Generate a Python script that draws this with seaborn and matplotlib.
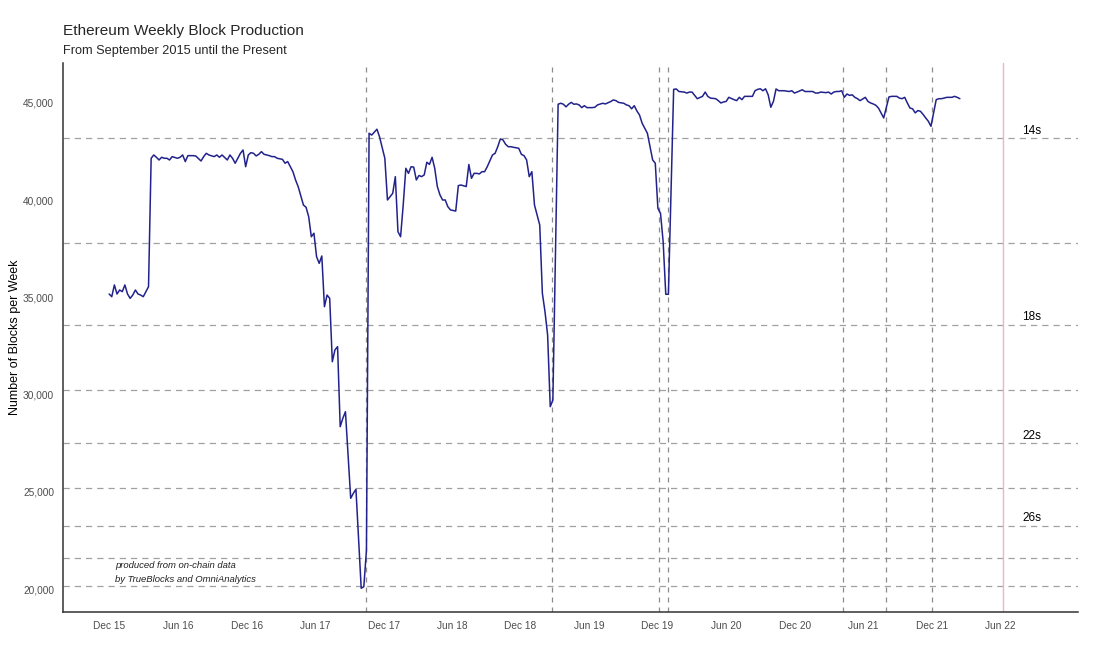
import matplotlib
matplotlib.use('Agg')
import pandas as pd
import matplotlib.pyplot as plt
import matplotlib.dates as mdates
import matplotlib.ticker as mticker
import seaborn as sns

# weekly series: week number counted from the first week, and blocks in that week
start_week = '2015-11-30'
weeks = [0, 1, 2, 3, 4, 5, 6, 7, 8, 9, 10, 11, 12, 13, 14, 15,
         16, 17, 18, 19, 20, 21, 22, 23, 24, 26, 27, 28, 29, 30, 32, 33, 35, 36, 37, 38,
         40, 41, 42, 43, 45, 46, 47, 48, 49, 50, 51, 52, 53, 54, 55, 56, 57, 58, 59,
         61, 62, 63, 64, 66, 67, 68, 69, 70, 71, 72,
         74, 75, 76, 77, 78, 79, 80, 81, 82, 83, 84, 85, 86, 87, 88, 89, 90,
         92, 93, 94, 96, 97, 98, 99, 100, 102, 103, 105, 106, 107, 108, 109, 110,
         111, 112, 113, 114, 115, 116, 117, 118, 119, 120, 121, 122, 123, 124, 125,
         126, 127, 128, 129, 130, 132, 133, 134, 136, 137, 138, 139, 140, 141, 142,
         143, 144, 146, 147, 148, 149, 150, 151, 152, 153, 154, 156, 157, 158, 159,
         160, 161, 162, 163, 164, 165, 166, 167, 168, 169,
         171, 172, 173, 174, 175, 176, 177, 178, 179, 180, 181, 182, 184, 185, 186,
         188, 189, 191, 192, 193, 194, 196, 197, 198, 199, 200, 201, 202, 203, 205,
         206, 207, 208, 209, 210, 211, 212, 213, 215, 216, 217, 219, 220, 221, 222,
         223, 224, 226, 227, 228, 229, 231, 232, 233, 234, 235, 236, 238, 239, 240,
         241, 242, 243, 245, 246, 247, 248, 249, 250, 251, 252, 253, 254, 255, 256,
         257, 259, 260, 261, 262, 264, 265, 266, 268, 269, 270, 271, 273, 274, 275,
         276, 277, 278, 279, 280, 281, 282, 283, 284, 285, 286, 288, 289, 290, 291,
         292, 293, 294, 295, 297, 298, 300, 301, 302, 303, 304, 305, 306, 307, 308,
         309, 310, 311, 312, 313, 315, 316, 317, 318, 319, 321, 322, 323, 324]
blocks = [35175, 35036, 35640, 35175, 35380, 35295, 35640, 35175, 34950, 35120, 35380, 35175,
          35120, 35036, 35295, 35550,
          42155, 42325, 42206, 42067, 42206, 42155, 42155, 42067, 42240, 42155, 42206, 42325,
          41985, 42290, 42290, 42270, 42015, 42240, 42410, 42325,
          42240, 42325, 42206, 42325, 42067, 42325, 42155, 41900, 42155, 42410, 42580, 41722,
          42325, 42445, 42410, 42275, 42360, 42495, 42360,
          42290, 42240, 42240, 42155, 42100, 41900, 41985, 41720, 41465, 41040, 40695,
          39750, 39635, 39150, 38120, 38300, 37095, 36750, 37130, 34520, 35120, 34950, 31690,
          32300, 32465, 28350, 28780, 29120,
          24665, 24920, 25130, 20036, 20120, 22000, 43440, 43350, 43650, 43250, 42155, 40010,
          40180, 40350, 41210, 38380,
          38120, 39750, 41640, 41380, 41720, 41700, 41040, 41270, 41210, 41300, 41950, 41840,
          42205, 41640, 40700,
          40270, 40010, 40010, 39665, 39500, 39440, 40750, 40780, 40700, 41835, 41125, 41380,
          41380, 41350, 41465,
          41465, 41720, 42325, 42410, 42750, 43150, 43100, 42875, 42750, 42750, 42720, 42670,
          42360, 42290, 42070,
          41210, 41465, 39750, 39240, 38720, 35210, 34265, 33065, 29380, 29720,
          44935, 44985, 44935, 44800, 44935, 45030, 44935, 44950, 44900, 44760, 44860, 44760,
          44760, 44780, 44900,
          44985, 44950, 45070, 45155, 45120, 45030, 44985, 44900, 44860, 44700, 44860, 44590,
          44380, 43955, 43440,
          42750, 42070, 41900, 39580, 39320, 37860, 35160, 35160, 45700, 45720, 45590, 45560,
          45510, 45560, 45560,
          45390, 45220, 45340, 45560, 45340, 45250, 45220, 45120, 45000, 45050, 45080, 45290,
          45170, 45120, 45290,
          45170, 45340, 45340, 45340, 45630, 45700, 45730, 45630, 45730, 45420, 44780, 45080,
          45720, 45630, 45630,
          45630, 45590, 45630, 45510, 45560, 45680, 45590, 45590, 45590, 45510, 45510, 45560,
          45530, 45560, 45460,
          45560, 45590, 45590, 45630, 45290, 45460, 45390, 45420, 45290, 45220, 45120, 45290,
          45080, 45000, 44950,
          44880, 44740, 44490, 44230, 45310, 45340, 45340, 45250, 45220, 45290, 45000, 44740,
          44700, 44490, 44610,
          44570, 44410, 44230, 44060, 43800, 45170, 45220, 45220, 45250, 45290, 45290, 45340,
          45290, 45220]

# block time reference lines (blocks per week at a given block time)
block_times = [14, 16, 18, 20, 22, 24, 26, 28, 30]
labelled_times = [14, 18, 22, 26]
fork_dates = ['2017-10-14', '2019-02-24', '2019-12-05', '2019-12-29',
              '2021-04-09', '2021-07-31', '2021-12-02']
next_fork = '2022-06-08'

df = pd.DataFrame({'Week': pd.to_datetime(start_week) + pd.to_timedelta([w * 7 for w in weeks], unit='D'),
                   'Blocks': blocks})

sns.set_style("white")
plt.rcParams['font.family'] = ['Liberation Sans', 'DejaVu Sans']

fig = plt.figure(figsize=(11.2, 6.49), dpi=100)
ax = fig.add_axes([0.05625, 0.057, 0.90625, 0.846])

for s in block_times:
    ax.axhline(604800 / s, color='#a0a0a0', linestyle=(0, (5, 4)), linewidth=0.9, zorder=1)
for d in fork_dates:
    ax.axvline(pd.Timestamp(d), color='#8c8c8c', linestyle=(0, (4, 4)), linewidth=0.9, zorder=1)
ax.axvline(pd.Timestamp(next_fork), color='#f5b3c0', linewidth=1.0, zorder=1)

sns.lineplot(data=df, x='Week', y='Blocks', color='#22228c', linewidth=1.1, ax=ax, zorder=3)

label_x = pd.Timestamp('2022-08-24')
for s in labelled_times:
    ax.text(label_x, 604800 / s + 60, f'{s}s', ha='center', va='bottom', fontsize=8.5, color='black')

ax.text(pd.Timestamp('2015-12-16'), 20830, 'produced from on-chain data\nby TrueBlocks and OmniAnalytics',
        fontsize=6.8, style='italic', color='#222222', va='center', ha='left', linespacing=1.75)

ax.set_xlim(pd.Timestamp('2015-07-30'), pd.Timestamp('2022-12-26'))
ax.set_ylim(18817, 47058)

tick_dates = pd.date_range('2015-12-01', '2022-06-01', freq='6MS')
ax.set_xticks(tick_dates)
ax.xaxis.set_major_formatter(mdates.DateFormatter('%b %y'))
ax.yaxis.set_major_locator(mticker.MultipleLocator(5000))
ax.yaxis.set_major_formatter(mticker.StrMethodFormatter('{x:,.0f}'))

ax.tick_params(axis='both', labelsize=7.3, colors='#4d4d4d', length=3, width=0.8, direction='out')
ax.tick_params(axis='both', labelcolor='#4d4d4d')
ax.set_xlabel('')
ax.set_ylabel('Number of Blocks per Week', fontsize=9, color='black', labelpad=1)

for side in ['top', 'right']:
    ax.spines[side].set_visible(False)
for side in ['left', 'bottom']:
    ax.spines[side].set_color('#333333')
    ax.spines[side].set_linewidth(1.1)

fig.text(0.05625, 0.953, 'Ethereum Weekly Block Production', fontsize=11.1, ha='left', va='center')
fig.text(0.05625, 0.922, 'From September 2015 until the Present', fontsize=9.2, ha='left', va='center')

fig.savefig('out.png', dpi=100)
plt.close(fig)
